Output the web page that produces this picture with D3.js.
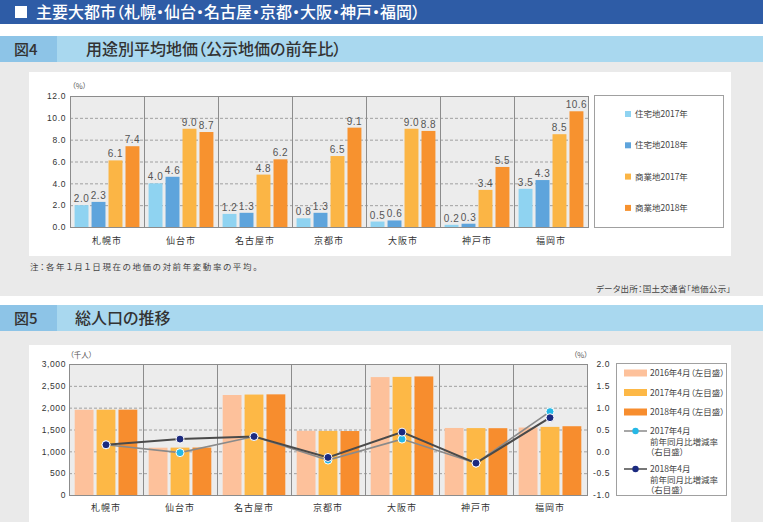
<!DOCTYPE html>
<html>
<head>
<meta charset="utf-8">
<title>主要大都市</title>
<script src="https://cdn.jsdelivr.net/npm/d3@7"></script>
<style>
	body, html { margin: 0; padding: 0; background: #fff; }
	svg { display: block; font-family: "Noto Sans CJK JP", sans-serif; }
	.jp { font-feature-settings: "palt"; }
	.num { font-family: "Liberation Sans", Arial, sans-serif; }
</style>
</head>
<body>
<svg id="Chart" width="763" height="522"></svg>
<script>
	var CITIES = ["札幌市", "仙台市", "名古屋市", "京都市", "大阪市", "神戸市", "福岡市"];

	// 図4 用途別平均地価 (%)
	var LAND_SERIES = ["住宅地2017年", "住宅地2018年", "商業地2017年", "商業地2018年"];
	var RES_2017 = [2.0, 4.0, 1.2, 0.8, 0.5, 0.2, 3.5];
	var RES_2018 = [2.3, 4.6, 1.3, 1.3, 0.6, 0.3, 4.3];
	var COM_2017 = [6.1, 9.0, 4.8, 6.5, 9.0, 3.4, 8.5];
	var COM_2018 = [7.4, 8.7, 6.2, 9.1, 8.8, 5.5, 10.6];
	var LAND_TICKS = [0, 2, 4, 6, 8, 10, 12];

	// 図5 総人口の推移 (千人, %)
	var POP_SERIES = ["2016年4月（左目盛）", "2017年4月（左目盛）", "2018年4月（左目盛）"];
	var POP_2016 = [1952, 1083, 2290, 1470, 2700, 1535, 1545];
	var POP_2017 = [1954, 1085, 2300, 1468, 2705, 1532, 1560];
	var POP_2018 = [1955, 1087, 2305, 1465, 2715, 1530, 1575];
	var RATE_2017 = [0.15, -0.03, 0.34, -0.20, 0.28, -0.27, 0.91];
	var RATE_2018 = [0.15, 0.28, 0.34, -0.14, 0.44, -0.27, 0.77];
	var POP_TICKS = [0, 500, 1000, 1500, 2000, 2500, 3000];
	var RATE_TICKS = [-1, -0.5, 0, 0.5, 1, 1.5, 2];

	var LAND_COLORS = ["#8fd3f1", "#5ea4dc", "#fbb545", "#f7922f"];
	var POP_COLORS = ["#fdc19b", "#fdb846", "#f78d2e"];
	var RATE_DOT = ["#25b8e6", "#1b2a80"];
	var RATE_LINE = ["#8a8a8a", "#4a4a4a"];

	var svg = d3.select("#Chart");

	// ---- headers / panels ----
	svg.append("rect").attr("x", 0).attr("y", 0).attr("width", 763).attr("height", 24).attr("fill", "#2e5ca6");
	svg.append("rect").attr("x", 15).attr("y", 6).attr("width", 12).attr("height", 12).attr("fill", "#fff");
	svg.append("text").attr("class", "jp").attr("x", 36).attr("y", 18)
		.attr("fill", "#fff").attr("font-size", 16).attr("font-weight", 500)
		.text("主要大都市（札幌・仙台・名古屋・京都・大阪・神戸・福岡）");

	function figHeader(y, num, title, tx) {
		svg.append("rect").attr("x", 0).attr("y", y).attr("width", 763).attr("height", 26).attr("fill", "#a9d8ef");
		svg.append("rect").attr("x", 0).attr("y", y).attr("width", 57).attr("height", 26).attr("fill", "#8dc4e7");
		svg.append("text").attr("class", "jp").attr("x", 14).attr("y", y + 19)
			.attr("fill", "#333").attr("font-size", 15).attr("font-weight", 500).text(num);
		svg.append("text").attr("class", "jp").attr("x", tx).attr("y", y + 19)
			.attr("fill", "#333").attr("font-size", 16).attr("font-weight", 500).text(title);
	}

	svg.append("rect").attr("x", 0).attr("y", 62).attr("width", 763).attr("height", 234).attr("fill", "#eaeaea");
	svg.append("rect").attr("x", 0).attr("y", 331).attr("width", 763).attr("height", 191).attr("fill", "#eaeaea");
	figHeader(36, "図4", "用途別平均地価（公示地価の前年比）", 86);
	figHeader(305, "図5", "総人口の推移", 75);

	svg.append("rect").attr("x", 29).attr("y", 72).attr("width", 702).attr("height", 184).attr("fill", "#fff");
	svg.append("rect").attr("x", 29).attr("y", 345).attr("width", 702).attr("height", 180).attr("fill", "#fff");

	svg.append("text").attr("class", "jp").attr("x", 30).attr("y", 270)
		.attr("fill", "#444").attr("font-size", 8.5).attr("letter-spacing", 1.6)
		.text("注：各年１月１日現在の地価の対前年変動率の平均。");
	svg.append("text").attr("class", "jp").attr("x", 731).attr("y", 292)
		.attr("fill", "#444").attr("font-size", 8.5).attr("text-anchor", "end").attr("letter-spacing", 0.3)
		.text("データ出所：国土交通省「地価公示」");

	// common plot frame
	function plotFrame(x, y, left, right, top, bottom, ticks) {
		svg.append("rect").attr("x", left).attr("y", top)
			.attr("width", right - left).attr("height", bottom - top).attr("fill", "#ececec");
		svg.append("g").selectAll("line").data(ticks.slice(1, -1)).enter().append("line")
			.attr("x1", left).attr("x2", right)
			.attr("y1", function(d) { return y(d) + 0.5; })
			.attr("y2", function(d) { return y(d) + 0.5; })
			.attr("stroke", "#a0a0a0").attr("stroke-dasharray", "3,2");
		svg.append("g").selectAll("line").data(CITIES.slice(1)).enter().append("line")
			.attr("x1", function(d) { return Math.round(x(d)) + 0.5; })
			.attr("x2", function(d) { return Math.round(x(d)) + 0.5; })
			.attr("y1", top).attr("y2", bottom)
			.attr("stroke", "#8c8c8c");
	}

	function plotBorder(left, right, top, bottom) {
		svg.append("rect").attr("x", left + 0.5).attr("y", top + 0.5)
			.attr("width", right - left).attr("height", bottom - top)
			.attr("fill", "none").attr("stroke", "#8c8c8c");
	}

	function cityAxis(x, y0) {
		var g = svg.append("g").attr("transform", "translate(0," + y0 + ")")
			.call(d3.axisBottom(x).tickSize(0).tickPadding(7));
		g.select(".domain").remove();
		g.selectAll("text").attr("font-family", "Noto Sans CJK JP").attr("font-size", 9)
			.attr("letter-spacing", 1).attr("fill", "#333");
	}

	function valueAxis(scale, xPos, ticks, fmt, right) {
		var ax = right ? d3.axisRight(scale) : d3.axisLeft(scale);
		var g = svg.append("g").attr("transform", "translate(" + xPos + ",0)")
			.call(ax.tickValues(ticks).tickSize(0).tickPadding(0).tickFormat(fmt));
		g.select(".domain").remove();
		g.selectAll("text").attr("class", "num").attr("font-family", "Liberation Sans")
			.attr("font-size", 8.5).attr("fill", "#333").attr("text-anchor", "end")
			.attr("letter-spacing", 0.6);
	}

	// ---- 図4 ----
	var L1 = 70, R1 = 588, T1 = 96, B1 = 227;
	var x1 = d3.scaleBand().domain(CITIES).range([L1, R1]);
	var xs1 = d3.scaleBand().domain(LAND_SERIES).range([0, x1.bandwidth()])
		.paddingInner(0.18).paddingOuter(0.27);
	var y1 = d3.scaleLinear().domain([0, 12]).range([B1, T1]);

	plotFrame(x1, y1, L1, R1, T1, B1, LAND_TICKS);

	var landRows = CITIES.map(function(c, i) {
		return [RES_2017[i], RES_2018[i], COM_2017[i], COM_2018[i]].map(function(v, j) {
			return { city: c, series: LAND_SERIES[j], value: v, k: j };
		});
	});

	var g1 = svg.append("g").selectAll("g").data(landRows).enter().append("g")
		.attr("transform", function(d) { return "translate(" + x1(d[0].city) + ",0)"; });

	g1.selectAll("rect").data(function(d) { return d; }).enter().append("rect")
		.attr("x", function(d) { return xs1(d.series); })
		.attr("y", function(d) { return y1(d.value); })
		.attr("width", xs1.bandwidth())
		.attr("height", function(d) { return B1 - y1(d.value); })
		.attr("fill", function(d) { return LAND_COLORS[d.k]; });

	g1.selectAll("text").data(function(d) { return d; }).enter().append("text")
		.attr("class", "num")
		.attr("x", function(d) { return xs1(d.series) + xs1.bandwidth() / 2; })
		.attr("y", function(d) { return y1(d.value) - 3; })
		.attr("text-anchor", "middle").attr("font-size", 10).attr("letter-spacing", 0.5)
		.attr("fill", "#555")
		.text(function(d) { return d.value.toFixed(1); });

	plotBorder(L1, R1, T1, B1);
	valueAxis(y1, 66, LAND_TICKS, function(d) { return d.toFixed(1); }, false);
	cityAxis(x1, B1 + 4);
	svg.append("text").attr("class", "jp").attr("x", 72).attr("y", 89)
		.attr("font-size", 7.5).attr("fill", "#555").text("（%）");

	// legend 1
	svg.append("rect").attr("x", 594.5).attr("y", 95.5).attr("width", 129).attr("height", 132)
		.attr("fill", "#fff").attr("stroke", "#a0a0a0");
	var lg1 = svg.append("g").selectAll("g").data(LAND_SERIES).enter().append("g")
		.attr("transform", function(d, i) { return "translate(625," + (114 + i * 31.3) + ")"; });
	lg1.append("rect").attr("x", 0).attr("y", -3).attr("width", 6).attr("height", 6)
		.attr("fill", function(d, i) { return LAND_COLORS[i]; });
	lg1.append("text").attr("x", 10).attr("y", 3).attr("font-size", 8.5).attr("fill", "#444")
		.text(function(d) { return d; });

	// ---- 図5 ----
	var L2 = 69, R2 = 587, T2 = 364, B2 = 495;
	var x2 = d3.scaleBand().domain(CITIES).range([L2, R2]);
	var xs2 = d3.scaleBand().domain(POP_SERIES).range([0, x2.bandwidth()])
		.paddingInner(0.14).paddingOuter(0.26);
	var y2 = d3.scaleLinear().domain([0, 3000]).range([B2, T2]);
	var yr = d3.scaleLinear().domain([-1, 2]).range([B2, T2]);

	plotFrame(x2, y2, L2, R2, T2, B2, POP_TICKS);

	var popRows = CITIES.map(function(c, i) {
		return [POP_2016[i], POP_2017[i], POP_2018[i]].map(function(v, j) {
			return { city: c, series: POP_SERIES[j], value: v, k: j };
		});
	});

	svg.append("g").selectAll("g").data(popRows).enter().append("g")
		.attr("transform", function(d) { return "translate(" + x2(d[0].city) + ",0)"; })
		.selectAll("rect").data(function(d) { return d; }).enter().append("rect")
		.attr("x", function(d) { return xs2(d.series); })
		.attr("y", function(d) { return y2(d.value); })
		.attr("width", xs2.bandwidth())
		.attr("height", function(d) { return B2 - y2(d.value); })
		.attr("fill", function(d) { return POP_COLORS[d.k]; });

	plotBorder(L2, R2, T2, B2);

	var rates = [RATE_2017, RATE_2018];
	var line = d3.line()
		.x(function(d, i) { return x2(CITIES[i]) + x2.bandwidth() / 2; })
		.y(function(d) { return yr(d); });

	rates.forEach(function(r, k) {
		svg.append("path").datum(r).attr("d", line)
			.attr("fill", "none").attr("stroke", RATE_LINE[k]).attr("stroke-width", k ? 2 : 1.6);
	});
	rates.forEach(function(r, k) {
		svg.append("g").selectAll("circle").data(r).enter().append("circle")
			.attr("cx", function(d, i) { return x2(CITIES[i]) + x2.bandwidth() / 2; })
			.attr("cy", function(d) { return yr(d); })
			.attr("r", 4).attr("fill", RATE_DOT[k]).attr("stroke", "#fff").attr("stroke-width", 1);
	});

	valueAxis(y2, 66, POP_TICKS, d3.format(","), false);
	valueAxis(yr, 610, RATE_TICKS, function(d) { return d.toFixed(1); }, true);
	cityAxis(x2, B2 + 3);
	svg.append("text").attr("class", "jp").attr("x", 70).attr("y", 358)
		.attr("font-size", 7.5).attr("fill", "#555").text("（千人）");
	svg.append("text").attr("class", "jp").attr("x", 588).attr("y", 358).attr("text-anchor", "end")
		.attr("font-size", 7.5).attr("fill", "#555").text("（%）");

	// legend 2
	svg.append("rect").attr("x", 616.5).attr("y", 363.5).attr("width", 110).attr("height", 132)
		.attr("fill", "#fff").attr("stroke", "#a0a0a0");
	var lg2 = svg.append("g").selectAll("g").data(POP_SERIES).enter().append("g")
		.attr("class", "jp")
		.attr("transform", function(d, i) { return "translate(624," + (373 + i * 19.5) + ")"; });
	lg2.append("rect").attr("x", 0).attr("y", -3.5).attr("width", 23).attr("height", 7)
		.attr("fill", function(d, i) { return POP_COLORS[i]; });
	lg2.append("text").attr("x", 26).attr("y", 3).attr("font-size", 8.5).attr("fill", "#444")
		.text(function(d) { return d; });

	var RATE_LABELS = [["2017年4月", "前年同月比増減率", "（右目盛）"], ["2018年4月", "前年同月比増減率", "（右目盛）"]];
	var lg3 = svg.append("g").selectAll("g").data(RATE_LABELS).enter().append("g")
		.attr("class", "jp")
		.attr("transform", function(d, i) { return "translate(624," + (431 + i * 38) + ")"; });
	lg3.append("line").attr("x1", 0).attr("x2", 23).attr("y1", 0).attr("y2", 0)
		.attr("stroke", function(d, i) { return RATE_LINE[i]; }).attr("stroke-width", 1.5);
	lg3.append("circle").attr("cx", 11.5).attr("cy", 0).attr("r", 3.2)
		.attr("fill", function(d, i) { return RATE_DOT[i]; });
	lg3.each(function(d) {
		var g = d3.select(this);
		d.forEach(function(t, j) {
			g.append("text").attr("x", 26).attr("y", 3 + j * 10.5).attr("font-size", 8.5)
				.attr("fill", "#444").text(t);
		});
	});
</script>
</body>
</html>
